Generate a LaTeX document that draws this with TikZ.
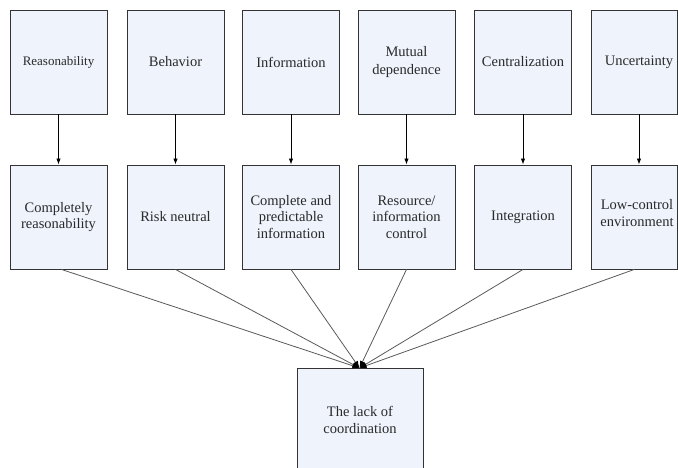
\documentclass[tikz,border=0pt]{standalone}
\usepackage{fontspec}
\setmainfont{Liberation Serif}
\usetikzlibrary{arrows.meta}
\definecolor{boxfill}{HTML}{EEF3FC}
\definecolor{boxline}{HTML}{333333}
\definecolor{txt}{HTML}{2A2A2A}
\begin{document}
\begin{tikzpicture}[x=1pt,y=-1pt,
  box/.style={draw=boxline, line width=0.9pt, fill=boxfill, minimum width=97pt, minimum height=104pt,
    inner sep=0pt, align=center, text=txt, font=\fontsize{14.5}{16.5}\selectfont},
  lbl/.style={inner sep=0pt, align=center, text=txt, font=\fontsize{14.5}{16.5}\selectfont},
  down/.style={draw=black, line width=0.9pt, -{Latex[length=6pt,width=4.5pt]}},
  conv/.style={draw=black!65, line width=0.8pt, -{Latex[length=7pt,width=5.5pt,fill=black,color=black]}}]
\useasboundingbox (0,0) rectangle (678,468);
% top row
\node[box, font=\fontsize{13}{15}\selectfont] (t1) at (58.5,62) {Reasonability};
\node[box] (t2) at (175.5,62) {Behavior};
\node[box] (t3) at (291,62) {Information};
\node[box, font=\fontsize{14.5}{17.5}\selectfont] (t4) at (406.5,62) {Mutual\\dependence};
\node[box] (t5) at (523,62) {Centralization};
\node[box, minimum width=86.5pt] (t6) at (634.25,62) {};
\node[lbl] (t6t) at (639,62) {Uncertainty};
% middle row
\node[box] (m1) at (58.5,217) {Completely\\reasonability};
\node[box] (m2) at (175.5,217) {Risk neutral};
\node[box] (m3) at (291,217) {Complete and\\predictable\\information};
\node[box] (m4) at (406.5,217) {Resource/\\information\\control};
\node[box] (m5) at (523,217) {Integration};
\node[box, minimum width=86.5pt] (m6) at (634.25,217) {};
\node[lbl] (m6t) at (637,213) {Low-control\\environment};
% bottom
\node[box, minimum width=126pt] (b) at (360,420) {The lack of\\coordination};
\coordinate (c) at (359.5,368);
% arrows
\foreach \i in {1,...,5} \draw[down] (t\i) -- (m\i);
\draw[down] (t6.south -| t6t) -- (m6.north -| t6t);
% converging lines
\draw[conv] (m1.south) ++(3,0) -- (c);
\draw[conv] (m2.south) -- (c);
\draw[conv] (m3.south) -- (c);
\draw[conv] (m4.south) -- (c);
\draw[conv] (m5.south) -- (c);
\draw[conv] (m6.south) -- (c);
\end{tikzpicture}
\end{document}
